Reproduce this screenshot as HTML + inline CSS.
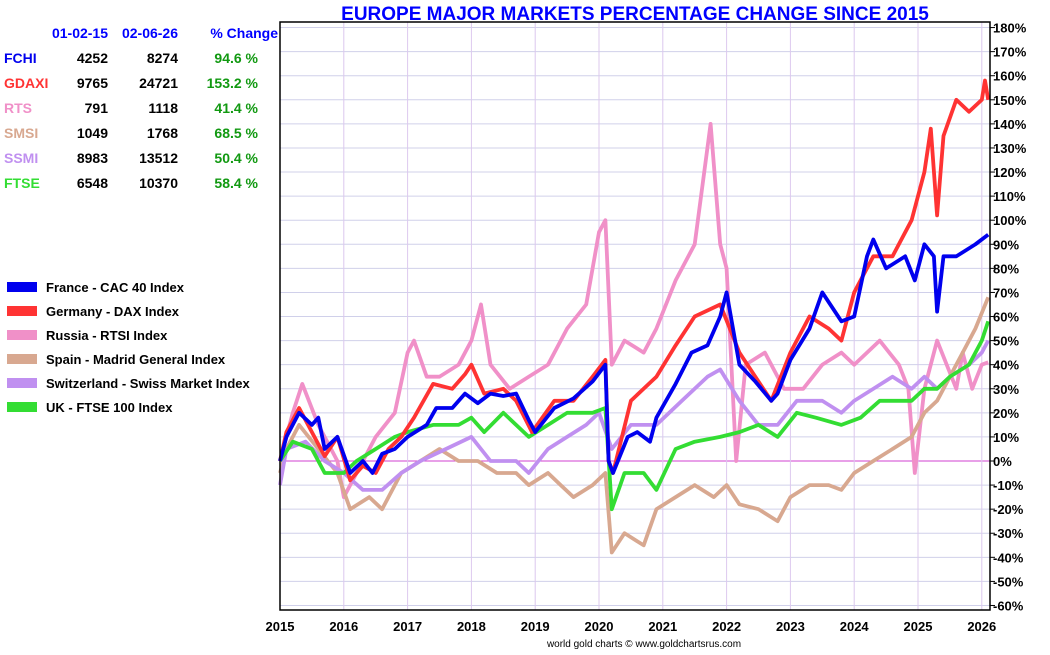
<!DOCTYPE html>
<html><head><meta charset="utf-8"><style>
body{margin:0;background:#fff;font-family:"Liberation Sans",sans-serif}
svg text{font-family:"Liberation Sans",sans-serif}
</style></head><body>
<svg id="c" width="1050" height="650" xmlns="http://www.w3.org/2000/svg">
<text x="635" y="20" text-anchor="middle" font-size="19" font-weight="bold" fill="#0000ff">EUROPE MAJOR MARKETS PERCENTAGE CHANGE SINCE 2015</text>
<g id="grid"></g><g id="series"></g><g id="axes"></g>
<g font-size="14" font-weight="bold">
<text x="108" y="38" text-anchor="end" fill="#0000ff">01-02-15</text>
<text x="178" y="38" text-anchor="end" fill="#0000ff">02-06-26</text>
<text x="278" y="38" text-anchor="end" fill="#0000ff">% Change</text>
</g>
<g id="table"></g>
<g id="legend"></g>
<text x="644" y="647" text-anchor="middle" font-size="10" fill="#000">world gold charts © www.goldchartsrus.com</text>
</svg>
<script>
const names=["FCHI","GDAXI","RTS","SMSI","SSMI","FTSE"];
const startVals=[4252,9765,791,1049,8983,6548];
const endVals=[8274,24721,1118,1768,13512,10370];
const changes=["94.6 %","153.2 %","41.4 %","68.5 %","50.4 %","58.4 %"];
const legendLabels=["France - CAC 40 Index","Germany - DAX Index","Russia - RTSI Index","Spain - Madrid General Index","Switzerland - Swiss Market Index","UK - FTSE 100 Index"];
const colors=["#0000ee","#ff3333","#f090c8","#d8a890","#c090f0","#33dd33"];
const yTicks=[-60,-50,-40,-30,-20,-10,0,10,20,30,40,50,60,70,80,90,100,110,120,130,140,150,160,170,180];
const xYears=[2015,2016,2017,2018,2019,2020,2021,2022,2023,2024,2025,2026];
const fchi=[[2015,0],[2015.1,10],[2015.3,20],[2015.5,15],[2015.6,18],[2015.7,5],[2015.9,10],[2016.1,-5],[2016.3,0],[2016.45,-5],[2016.6,3],[2016.8,5],[2017,10],[2017.3,15],[2017.45,22],[2017.7,22],[2017.9,28],[2018.1,24],[2018.3,28],[2018.5,27],[2018.7,28],[2018.9,17],[2019,12],[2019.3,22],[2019.6,26],[2019.9,33],[2020.1,40],[2020.15,0],[2020.22,-5],[2020.45,10],[2020.6,12],[2020.8,8],[2020.9,18],[2021.2,32],[2021.45,45],[2021.7,48],[2021.9,60],[2022,70],[2022.2,40],[2022.45,33],[2022.7,25],[2022.8,28],[2023,42],[2023.3,55],[2023.5,70],[2023.8,58],[2024,60],[2024.2,85],[2024.3,92],[2024.5,80],[2024.8,85],[2024.95,75],[2025.1,90],[2025.25,85],[2025.3,62],[2025.4,85],[2025.6,85],[2025.9,90],[2026.1,94]];
const gdaxi=[[2015,0],[2015.1,12],[2015.3,22],[2015.5,12],[2015.7,2],[2015.9,10],[2016.1,-8],[2016.3,-2],[2016.5,-5],[2016.7,5],[2016.9,10],[2017.1,18],[2017.4,32],[2017.7,30],[2017.9,36],[2018.0,40],[2018.2,28],[2018.5,30],[2018.7,25],[2018.95,12],[2019.3,25],[2019.6,25],[2019.9,35],[2020.1,42],[2020.15,0],[2020.22,-5],[2020.5,25],[2020.9,35],[2021.2,48],[2021.5,60],[2021.9,65],[2022.2,45],[2022.45,35],[2022.7,25],[2023,45],[2023.3,60],[2023.6,55],[2023.8,50],[2024,70],[2024.3,85],[2024.6,85],[2024.9,100],[2025.1,120],[2025.2,138],[2025.3,102],[2025.4,135],[2025.6,150],[2025.8,145],[2026,150],[2026.05,158],[2026.1,150]];
const rts=[[2015,0],[2015.2,20],[2015.35,32],[2015.6,15],[2015.9,0],[2016,-15],[2016.2,-5],[2016.5,10],[2016.8,20],[2017,45],[2017.1,50],[2017.3,35],[2017.5,35],[2017.8,40],[2018,50],[2018.15,65],[2018.3,40],[2018.6,30],[2018.9,35],[2019.2,40],[2019.5,55],[2019.8,65],[2020,95],[2020.1,100],[2020.2,40],[2020.4,50],[2020.7,45],[2020.9,55],[2021.2,75],[2021.5,90],[2021.75,140],[2021.9,90],[2022,80],[2022.15,0],[2022.3,40],[2022.6,45],[2022.9,30],[2023.2,30],[2023.5,40],[2023.8,45],[2024,40],[2024.4,50],[2024.7,40],[2024.85,30],[2024.95,-5],[2025.1,30],[2025.3,50],[2025.45,40],[2025.6,30],[2025.7,45],[2025.85,30],[2026,40],[2026.1,41]];
const smsi=[[2015,-5],[2015.1,5],[2015.3,15],[2015.6,5],[2015.9,-5],[2016.1,-20],[2016.4,-15],[2016.6,-20],[2016.9,-5],[2017.2,0],[2017.5,5],[2017.8,0],[2018.1,0],[2018.4,-5],[2018.7,-5],[2018.9,-10],[2019.2,-5],[2019.4,-10],[2019.6,-15],[2019.9,-10],[2020.1,-5],[2020.2,-38],[2020.4,-30],[2020.7,-35],[2020.9,-20],[2021.2,-15],[2021.5,-10],[2021.8,-15],[2022,-10],[2022.2,-18],[2022.5,-20],[2022.8,-25],[2023,-15],[2023.3,-10],[2023.6,-10],[2023.8,-12],[2024,-5],[2024.3,0],[2024.6,5],[2024.9,10],[2025.1,20],[2025.3,25],[2025.5,35],[2025.7,45],[2025.9,55],[2026.1,68]];
const ssmi=[[2015,-10],[2015.1,5],[2015.4,8],[2015.7,0],[2016,-5],[2016.3,-12],[2016.6,-12],[2016.9,-5],[2017.2,0],[2017.6,5],[2018,10],[2018.3,0],[2018.7,0],[2018.9,-5],[2019.2,5],[2019.5,10],[2019.8,15],[2020,20],[2020.2,5],[2020.5,15],[2020.9,15],[2021.3,25],[2021.7,35],[2021.9,38],[2022.2,25],[2022.5,15],[2022.8,15],[2023.1,25],[2023.5,25],[2023.8,20],[2024,25],[2024.3,30],[2024.6,35],[2024.9,30],[2025.1,35],[2025.3,30],[2025.5,35],[2025.8,40],[2026,45],[2026.1,50]];
const ftse=[[2015,0],[2015.2,8],[2015.5,5],[2015.7,-5],[2016,-5],[2016.2,0],[2016.5,5],[2016.8,10],[2017,12],[2017.4,15],[2017.8,15],[2018,18],[2018.2,12],[2018.5,20],[2018.9,10],[2019.2,15],[2019.5,20],[2019.9,20],[2020.1,22],[2020.2,-20],[2020.4,-5],[2020.7,-5],[2020.9,-12],[2021.2,5],[2021.5,8],[2021.9,10],[2022.2,12],[2022.5,15],[2022.8,10],[2023.1,20],[2023.4,18],[2023.8,15],[2024.1,18],[2024.4,25],[2024.7,25],[2024.9,25],[2025.1,30],[2025.3,30],[2025.5,35],[2025.8,40],[2026,50],[2026.1,58]];
const seriesData=[fchi,gdaxi,rts,smsi,ssmi,ftse];
const drawOrder=[2,3,4,5,1,0];
const NS="http://www.w3.org/2000/svg";
const L=280,R=990,T=22,B=610;
const X=t=>L+(t-2015)*63.8;
const Y=v=>461-v*2.408;
function mk(tag,attrs,parent){const e=document.createElementNS(NS,tag);for(const k in attrs)e.setAttribute(k,attrs[k]);parent.appendChild(e);return e;}
const grid=document.getElementById('grid'),axes=document.getElementById('axes'),ser=document.getElementById('series');
yTicks.forEach(v=>{const y=Y(v);
 const g=mk('line',{x1:L,x2:R,y1:y,y2:y,stroke:v===0?'#d040d0':'#d0d0ea','stroke-width':1},grid);
 
 
 mk('line',{x1:R,x2:R+5,y1:y,y2:y,stroke:'#000'},axes);
 const t=mk('text',{x:R+3,y:y+5,'font-size':13,'font-weight':'bold',fill:'#000'},axes);t.textContent=v+'%';
 
 });
xYears.forEach(yr=>{const x=X(yr);
 const g=mk('line',{x1:x,x2:x,y1:T,y2:B,stroke:'#dcc8ee','stroke-width':1},grid);
 
 
 const t=mk('text',{x:x,y:631,'text-anchor':'middle','font-size':13,'font-weight':'bold',fill:'#000'},axes);t.textContent=yr;
 
 });
mk('rect',{x:L,y:T,width:R-L,height:B-T,fill:'none',stroke:'#000','stroke-width':1.5},axes);
drawOrder.forEach(i=>{const p=mk('polyline',{points:seriesData[i].map(d=>X(d[0]).toFixed(1)+','+Y(d[1]).toFixed(1)).join(' '),fill:'none',stroke:colors[i],'stroke-width':3.8,'stroke-linejoin':'round'},ser);
 
 });
const tb=document.getElementById('table'),lg=document.getElementById('legend');
names.forEach((n,i)=>{const y=63+i*25;
 const row=mk('g',{'font-size':14,'font-weight':'bold'},tb);
 
 
 mk('text',{x:4,y:y,fill:colors[i]},row).textContent=n;
 mk('text',{x:108,y:y,'text-anchor':'end',fill:'#000'},row).textContent=startVals[i];
 mk('text',{x:178,y:y,'text-anchor':'end',fill:'#000'},row).textContent=endVals[i];
 mk('text',{x:258,y:y,'text-anchor':'end',fill:'#119911'},row).textContent=changes[i];
 const ly=288+i*24;
 const le=mk('g',{},lg);
 
 
 mk('rect',{x:7,y:ly-6,width:30,height:10,fill:colors[i]},le);
 mk('text',{x:46,y:ly+4,'font-size':13,'font-weight':'bold',fill:'#000'},le).textContent=legendLabels[i];});
</script>
</body></html>
